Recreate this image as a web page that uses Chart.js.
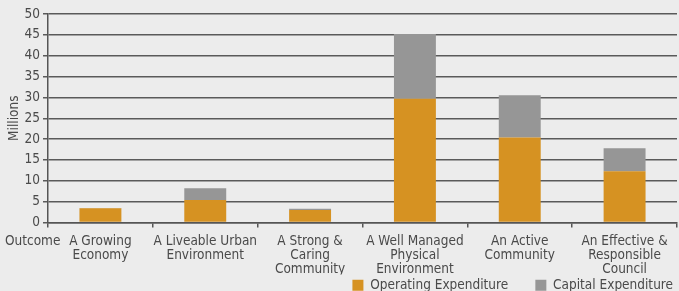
<!DOCTYPE html>
<html>
<head>
<meta charset="UTF-8">
<script src="https://cdn.jsdelivr.net/npm/chart.js"></script>
<style>
  html, body { margin: 0; padding: 0; background: #ececec; }
  #wrap { width: 679px; height: 291px; }
</style>
</head>
<body>
<div id="wrap"><canvas id="chart"></canvas></div>
<script>
const categories = [
  ['A Growing', 'Economy'],
  ['A Liveable Urban', 'Environment'],
  ['A Strong &', 'Caring', 'Community'],
  ['A Well Managed', 'Physical', 'Environment'],
  ['An Active', 'Community'],
  ['An Effective &', 'Responsible', 'Council']
];
const operating = [3.4, 5.4, 3.0, 29.7, 20.4, 12.3];
const capital = [0.1, 2.8, 0.3, 15.5, 10.1, 5.5];
const yTicks = [0, 5, 10, 15, 20, 25, 30, 35, 40, 45, 50];

const FONT = "'DejaVu Sans Condensed', 'Roboto', sans-serif";
const TXT = '#4a4a4a';
const FS = 13.5;

const outcomeLabel = {
  id: 'outcomeLabel',
  afterDraw(chart) {
    const ctx = chart.ctx;
    ctx.save();
    ctx.font = FS + 'px ' + FONT;
    ctx.fillStyle = TXT;
    ctx.textBaseline = 'middle';
    ctx.fillText('Outcome', 5, 241);
    ctx.restore();
  }
};

new Chart(document.getElementById('chart'), {
  type: 'bar',
  data: {
    labels: categories,
    datasets: [
      { label: 'Operating Expenditure', data: operating, backgroundColor: '#d69222',
        barPercentage: 0.4, categoryPercentage: 1 },
      { label: 'Capital Expenditure', data: capital, backgroundColor: '#969696',
        barPercentage: 0.4, categoryPercentage: 1 }
    ]
  },
  options: {
    responsive: true,
    maintainAspectRatio: false,
    animation: false,
    layout: { padding: { top: 14, right: 2, left: 0, bottom: -11 } },
    plugins: {
      legend: {
        position: 'bottom',
        align: 'end',
        labels: {
          boxWidth: 11, boxHeight: 11, padding: 4,
          color: TXT, font: { family: FONT, size: FS },
          generateLabels(chart) {
            const items = Chart.defaults.plugins.legend.labels.generateLabels(chart);
            // wider gap between the two legend entries
            items.forEach((it, i) => { if (i < items.length - 1) it.text += '      '; it.lineWidth = 0; });
            return items;
          }
        }
      },
      tooltip: { enabled: false }
    },
    scales: {
      x: {
        stacked: true,
        afterFit(axis) { axis.height = 52; },
        grid: { display: true, offset: true, drawOnChartArea: false, drawTicks: true,
                tickLength: 5, color: '#555', lineWidth: 1.5 },
        border: { display: true, color: '#555', width: 1.5 },
        ticks: { color: TXT, font: { family: FONT, size: FS, lineHeight: 1.05 }, maxRotation: 0, autoSkip: false, padding: 7 }
      },
      y: {
        stacked: true,
        min: 0, max: 50,
        afterFit(axis) { axis.width = 48; },
        afterBuildTicks(axis) { axis.ticks = yTicks.map(v => ({ value: v })); },
        grid: { color: '#5a5a5a', lineWidth: 1.5, tickLength: 5 },
        border: { display: true, color: '#555', width: 1.5 },
        ticks: { color: TXT, font: { family: FONT, size: FS }, padding: 3 },
        title: { display: true, text: 'Millions', color: TXT, font: { family: FONT, size: FS }, padding: { top: 6, bottom: 0 } }
      }
    }
  },
  plugins: [outcomeLabel]
});
</script>
</body>
</html>
